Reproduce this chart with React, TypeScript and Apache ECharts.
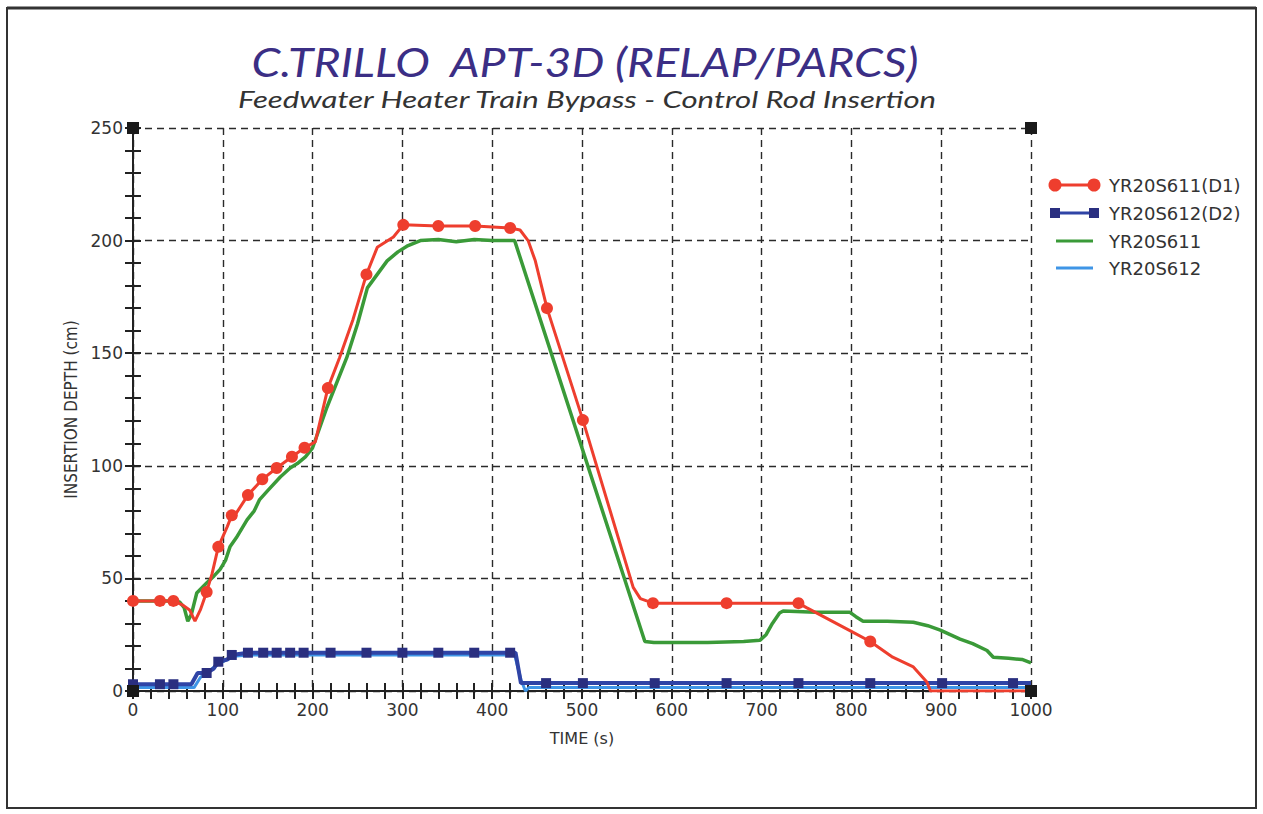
import React, { useEffect, useRef } from "react";
import * as echarts from "echarts";

// ---- Data ----
const d1Time = [0, 15, 30, 45, 56, 63, 69, 75, 82, 88, 95, 105, 110, 115, 128, 144, 160, 177, 191, 203, 217, 230, 245, 260, 272, 290, 301, 340, 381, 420, 431, 440, 448, 461, 501, 557, 565, 579, 661, 741, 750, 802, 821, 846, 869, 884, 888, 1000];
const d1Value = [40, 40, 40, 40, 38, 36, 31, 36, 44, 52, 64, 73, 78, 79, 87, 94, 99, 104, 108, 110.6, 134.5, 148, 165, 185, 197, 201.6, 207, 206.5, 206.5, 205.6, 204.7, 200, 191, 170, 120.3, 46, 41, 39, 39, 39, 37, 26, 22, 15, 10.7, 4, 0, 0];
const d1Markers = [0, 30, 45, 82, 95, 110, 128, 144, 160, 177, 191, 217, 260, 301, 340, 381, 420, 461, 501, 579, 661, 741, 821];

const d2Time = [0, 15, 30, 45, 65, 72, 82, 90, 95, 105, 110, 128, 145, 160, 175, 190, 220, 260, 300, 340, 380, 420, 426, 432, 460, 501, 581, 661, 741, 821, 901, 980, 1000];
const d2Value = [3, 3, 3, 3, 3, 8, 8, 10, 13, 14, 16, 17, 17, 17, 17, 17, 17, 17, 17, 17, 17, 17, 17, 3.5, 3.5, 3.5, 3.5, 3.5, 3.5, 3.5, 3.5, 3.5, 3.5];
const d2Markers = [0, 30, 45, 82, 95, 110, 128, 145, 160, 175, 190, 220, 260, 300, 340, 380, 420, 460, 501, 581, 661, 741, 821, 901, 980];

const g1Time = [0, 20, 40, 52, 57, 61, 65, 71, 82, 90, 97, 103, 108, 115, 127, 135, 141, 150, 164, 175, 183, 192, 200, 208, 216, 238, 250, 261, 272, 283, 295, 305, 320, 340, 360, 380, 400, 425, 570, 580, 600, 640, 680, 698, 705, 712, 720, 724, 760, 798, 805, 813, 840, 869, 885, 899, 910, 921, 935, 951, 958, 975, 990, 1000];
const g1Value = [40, 40, 40, 39.5, 37, 31, 34, 43.5, 48, 51, 54, 58, 64, 68, 76, 80, 85, 89, 95, 99, 101, 104, 108, 117, 126, 148, 163, 179, 185, 191, 195, 197.5, 200, 200.5, 199.5, 200.5, 200, 200, 22, 21.5, 21.5, 21.5, 22, 22.5, 25, 30, 34.6, 35.5, 35, 35, 33, 31, 31, 30.5, 29, 27, 25, 23, 21, 18, 15, 14.5, 14, 12.5];

const b1Time = [0, 68, 75, 85, 95, 105, 115, 130, 425, 432, 437, 441, 1000];
const b1Value = [1.5, 1.5, 6, 9, 12, 14, 15.5, 16, 16, 5, 0, 1.5, 1.5];

const xTicks = { min: 0, max: 1000, interval: 100 };
const yTicks = { min: 0, max: 250, interval: 50 };

const seriesNames = ["YR20S611(D1)", "YR20S612(D2)", "YR20S611", "YR20S612"];

// ---- Layout / style ----
const W = 1263;
const H = 814;
const GL = 133;
const GT = 128;
const GR = 1031;
const GB = 691;

const RED = "#ee3e2e";
const DBLUE = "#2f44a6";
const DMARK = "#2a2f80";
const GREEN = "#3a9a38";
const LBLUE = "#3f95e6";

const LABEL_FONT = "'DejaVu Sans', Verdana, sans-serif";

function toItems(ts: number[], vs: number[], markers: number[], sym: string) {
  return ts.map((t, i) => ({
    value: [t, vs[i]],
    symbol: markers.indexOf(t) >= 0 ? sym : "none",
  }));
}

export default function App() {
  const ref = useRef<HTMLDivElement>(null);

  useEffect(() => {
    if (!ref.current) return;
    const chart = echarts.init(ref.current, null, { renderer: "svg" });

    const axisLine = { show: true, lineStyle: { color: "#222", width: 2 } };
    const tick = { show: true, inside: true, length: 8, lineStyle: { color: "#222", width: 2 } };
    const minor = { show: true, splitNumber: 5, length: 8, lineStyle: { color: "#222", width: 2 } };
    const split = { show: true, lineStyle: { color: "#2a2a2a", width: 1.4, type: [7, 5] as any } };

    const legendY = [185, 213, 241, 268];
    const legendGraphics: any[] = [];
    legendGraphics.push({ type: "line", shape: { x1: 1049, y1: legendY[0], x2: 1099, y2: legendY[0] }, style: { stroke: RED, lineWidth: 3 } });
    legendGraphics.push({ type: "circle", shape: { cx: 1055, cy: legendY[0], r: 6.5 }, style: { fill: RED } });
    legendGraphics.push({ type: "circle", shape: { cx: 1094, cy: legendY[0], r: 6.5 }, style: { fill: RED } });
    legendGraphics.push({ type: "line", shape: { x1: 1050, y1: legendY[1], x2: 1098, y2: legendY[1] }, style: { stroke: DBLUE, lineWidth: 3 } });
    legendGraphics.push({ type: "rect", shape: { x: 1050, y: legendY[1] - 5, width: 10, height: 10 }, style: { fill: DMARK } });
    legendGraphics.push({ type: "rect", shape: { x: 1089, y: legendY[1] - 5, width: 10, height: 10 }, style: { fill: DMARK } });
    legendGraphics.push({ type: "line", shape: { x1: 1056, y1: legendY[2], x2: 1093, y2: legendY[2] }, style: { stroke: GREEN, lineWidth: 3 } });
    legendGraphics.push({ type: "line", shape: { x1: 1056, y1: legendY[3], x2: 1093, y2: legendY[3] }, style: { stroke: LBLUE, lineWidth: 3 } });
    seriesNames.forEach((n, i) => {
      legendGraphics.push({
        type: "text",
        x: 1109,
        y: legendY[i],
        style: { text: n, fill: "#333", font: `18px ${LABEL_FONT}`, textVerticalAlign: "middle", verticalAlign: "middle" },
      });
    });

    const cs = 12;
    const corners = [
      [GL, GT],
      [GR, GT],
      [GL, GB],
      [GR, GB],
    ].map(([x, y]) => ({
      type: "rect",
      shape: { x: x - cs / 2, y: y - cs / 2, width: cs, height: cs },
      style: { fill: "#1a1a1a" },
      z: 100,
    }));

    chart.setOption({
      animation: false,
      backgroundColor: "#ffffff",
      grid: { left: GL, top: GT, right: W - GR, bottom: H - GB, containLabel: false },
      xAxis: [
        {
          type: "value",
          position: "bottom",
          ...xTicks,
          axisLine,
          axisTick: tick,
          minorTick: minor,
          splitLine: split,
          axisLabel: { color: "#333", fontSize: 17, fontFamily: LABEL_FONT, margin: 10, formatter: (v: number) => String(v) },
          name: "TIME (s)",
          nameLocation: "middle",
          nameGap: 39,
          nameTextStyle: { color: "#333", fontSize: 16, fontFamily: LABEL_FONT },
        },
        {
          type: "value",
          position: "top",
          ...xTicks,
          axisLine,
          axisTick: tick,
          minorTick: minor,
          splitLine: { show: false },
          axisLabel: { show: false },
        },
      ],
      yAxis: [
        {
          type: "value",
          position: "left",
          ...yTicks,
          axisLine,
          axisTick: tick,
          minorTick: minor,
          splitLine: split,
          axisLabel: { color: "#333", fontSize: 17, fontFamily: LABEL_FONT, margin: 10 },
          name: "INSERTION DEPTH (cm)",
          nameLocation: "middle",
          nameGap: 52,
          nameTextStyle: { color: "#333", fontSize: 17, fontFamily: "'DejaVu Sans Condensed', 'Liberation Sans Narrow', 'DejaVu Sans', sans-serif" },
        },
        {
          type: "value",
          position: "right",
          ...yTicks,
          axisLine,
          axisTick: tick,
          minorTick: minor,
          splitLine: { show: false },
          axisLabel: { show: false },
        },
      ],
      series: [
        {
          name: seriesNames[3],
          type: "line",
          data: toItems(b1Time, b1Value, [], "none"),
          symbol: "none",
          lineStyle: { color: LBLUE, width: 3 },
          itemStyle: { color: LBLUE },
          z: 2,
        },
        {
          name: seriesNames[1],
          type: "line",
          data: toItems(d2Time, d2Value, d2Markers, "rect"),
          symbolSize: 10,
          lineStyle: { color: DBLUE, width: 4 },
          itemStyle: { color: DMARK },
          z: 3,
        },
        {
          name: seriesNames[2],
          type: "line",
          data: toItems(g1Time, g1Value, [], "none"),
          symbol: "none",
          lineStyle: { color: GREEN, width: 3.5 },
          itemStyle: { color: GREEN },
          z: 4,
        },
        {
          name: seriesNames[0],
          type: "line",
          data: toItems(d1Time, d1Value, d1Markers, "circle"),
          symbolSize: 12,
          lineStyle: { color: RED, width: 3 },
          itemStyle: { color: RED },
          z: 5,
        },
      ],
      graphic: [
        {
          type: "rect",
          shape: { x: 7, y: 8, width: 1249, height: 800 },
          style: { fill: "none", stroke: "#333", lineWidth: 2 },
          silent: true,
          z: -10,
        },
        {
          type: "line",
          shape: { x1: 7, y1: 8, x2: 1256, y2: 8 },
          style: { stroke: "#333", lineWidth: 3 },
          silent: true,
          z: -9,
        },
        {
          type: "text",
          x: 585,
          y: 61,
          scaleX: 1.16,
          style: {
            text: "C.TRILLO  APT-3D (RELAP/PARCS)",
            fill: "#3b2e85",
            font: "italic 40px Lato, 'Open Sans', sans-serif",
            textAlign: "center",
            textVerticalAlign: "middle",
            align: "center",
            verticalAlign: "middle",
          },
        },
        {
          type: "text",
          x: 587,
          y: 99,
          scaleX: 1.3,
          style: {
            text: "Feedwater Heater Train Bypass - Control Rod Insertion",
            fill: "#333",
            font: "italic 24px Lato, 'Open Sans', sans-serif",
            textAlign: "center",
            textVerticalAlign: "middle",
            align: "center",
            verticalAlign: "middle",
          },
        },
        ...legendGraphics,
        ...corners,
      ],
    });

    return () => chart.dispose();
  }, []);

  return (
    <div
      ref={ref}
      style={{ position: "absolute", left: 0, top: 0, width: W, height: H }}
    />
  );
}
